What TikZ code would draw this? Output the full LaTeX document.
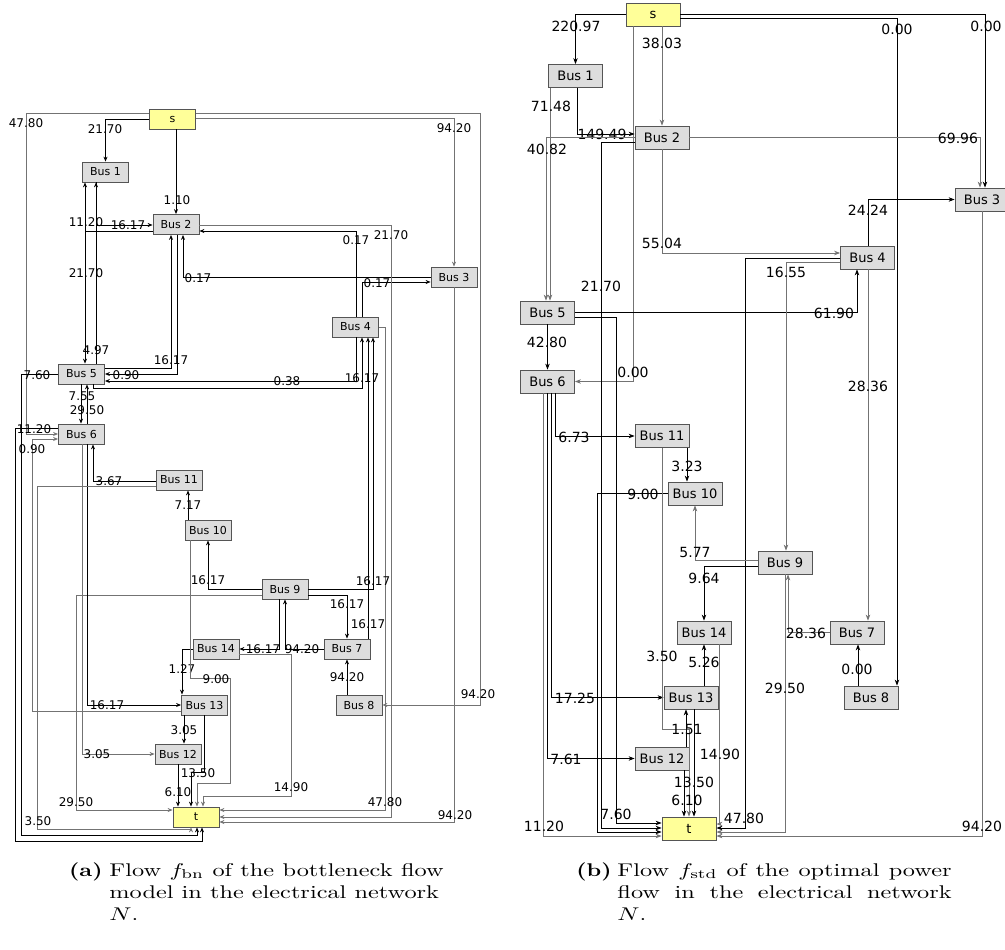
\documentclass[tikz,border=0pt]{standalone}
\usepackage{fontspec}
\newfontfamily\busfont{DejaVu Sans}
\usepackage{tikz}
\usetikzlibrary{arrows.meta}

\definecolor{busfill}{HTML}{DDDDDD}
\definecolor{termfill}{HTML}{FFFF99}
\definecolor{boxline}{HTML}{555555}

\begin{document}
\begin{tikzpicture}[x=1pt,y=-1pt,
  line/.style={line width=0.8pt},
  flow/.style={line,-{Stealth[length=5pt,width=4pt]}},
  flowg/.style={flow,draw=black!55},
  flowb/.style={line,-{Stealth[length=6pt,width=4.5pt]}},
  flowbg/.style={flowb,draw=black!55},
  bus/.style={draw=boxline,line width=0.8pt,fill=busfill,minimum width=46pt,minimum height=20pt,inner sep=0pt,font=\busfont\fontsize{11}{12}\selectfont},
  term/.style={bus,fill=termfill},
  busb/.style={bus,minimum width=54pt,minimum height=23pt,font=\busfont\fontsize{13}{14}\selectfont},
  termb/.style={busb,fill=termfill},
  lbl/.style={inner sep=0pt,font=\busfont\fontsize{12}{12}\selectfont},
  lblb/.style={inner sep=0pt,font=\busfont\fontsize{14}{14}\selectfont},
  captext/.style={anchor=base west,inner sep=0pt,xscale=2.43,yscale=1.84,text width=137.5pt,align=justify,font=\normalsize},
  captag/.style={anchor=base east,inner sep=0pt,xscale=2.3,yscale=1.84,font=\normalsize\bfseries}]

\useasboundingbox[fill=white] (0,0) rectangle (1005,950);

% ---- (a) bottleneck flow ----
\node[term] (Sa) at (172.5,119) {s};
\node[bus] (A1) at (105.5,172) {Bus 1};
\node[bus] (A2) at (176,224.5) {Bus 2};
\node[bus] (A3) at (454,277) {Bus 3};
\node[bus] (A4) at (355.5,327) {Bus 4};
\node[bus] (A5) at (81.5,374) {Bus 5};
\node[bus] (A6) at (81.5,434) {Bus 6};
\node[bus] (A7) at (347,649) {Bus 7};
\node[bus] (A8) at (359,705) {Bus 8};
\node[bus] (A9) at (285,589) {Bus 9};
\node[bus] (A10) at (208,530) {Bus 10};
\node[bus] (A11) at (179,480) {Bus 11};
\node[bus] (A12) at (178,754) {Bus 12};
\node[bus] (A13) at (204.5,705) {Bus 13};
\node[bus] (A14) at (216,649) {Bus 14};
\node[term] (Ta) at (196,817) {t};

% arcs leaving s
\draw[flow] (Sa.west) -| (A1.north);
\node[lbl] (fa1) at (105,129) {21.70};
\draw[flow] (Sa.south -| A2) -- (A2.north);
\node[lbl] (fa2) at (177,200) {1.10};
\draw[flowg] (Sa.east |- 0,118) -| (A3.north);
\node[lbl] (fa3) at (454,128) {94.20};
\draw[flowg] (Sa.east |- 0,113) -| (480,705) -- (A8.east);
\node[lbl] (fa4) at (478,694) {94.20};
\draw[flowg] (Sa.west |- 0,113) -| (26,434) -- (A6.west |- 0,434);
\node[lbl] (fa5) at (26,123) {47.80};

% upper buses
\draw[flow] (A2.west |- 0,231) -| (A1.south -| 85,0);
\node[lbl] (fa6) at (86,222) {11.20};
\draw[flow] (A2.west |- 0,231) -| (A5.north -| 85,0);
\node[lbl] (fa7) at (96,350) {4.97};
\draw[flow] (A5.north -| 96,0) -- (A1.south -| 96,0);
\node[lbl] (fa8) at (86,273) {21.70};
\draw[flow] (A1.south -| 96,0) |- (A2.west |- 0,225);
\node[lbl] (fa9) at (128,225) {16.17};
\draw[flow] (A5.east |- 0,368) -| (A2.south -| 171,0);
\node[lbl] (fa10) at (171,360) {16.17};
\draw[flow] (A2.south -| 177,0) |- (A5.east |- 0,374);
\node[lbl] (fa11) at (126,375) {0.90};
\draw[flow] (A3.west |- 0,277) -| (A2.south -| 183,0);
\node[lbl] (fa12) at (198,278) {0.17};
\draw[flow] (A4.north -| 356,0) |- (A2.east |- 0,231);
\node[lbl] (fa13) at (356,240) {0.17};
\draw[flow] (A4.north -| 362,0) |- (A3.west |- 0,282);
\node[lbl] (fa14) at (377,283) {0.17};
\draw[flowg] (A2.east |- 0,225) -| (391,817) -- (Ta.east |- 0,817);
\node[lbl] (fa15) at (391,235) {21.70};
\draw[flowg] (A4.east) -| (385,810) -- (Ta.east |- 0,810);
\node[lbl] (fa16) at (385,802) {47.80};
\draw[flowg] (A3.south) |- (Ta.east |- 0,822);
\node[lbl] (fa17) at (455,815) {94.20};
\draw[flow] (A4.south -| 356,0) |- (A5.east |- 0,381);
\node[lbl] (fa18) at (287,381) {0.38};
\draw[flow] (A5.south -| 93,0) |- (362,388) -- (A4.south -| 362,0);
\node[lbl] (fa19) at (362,378) {16.17};

% lower buses
\draw[flow] (A9.east |- 0,589) -| (A4.south -| 373,0);
\node[lbl] (fa20) at (373,581) {16.17};
\draw[flow] (A7.north -| 368,0) -- (A4.south -| 368,0);
\node[lbl] (fa21) at (368,624) {16.17};
\draw[flow] (A9.east |- 0,595) -| (A7.north);
\node[lbl] (fa22) at (347,604) {16.17};
\draw[flow] (A9.west |- 0,589) -| (A10.south);
\node[lbl] (fa23) at (208,580) {16.17};
\draw[flowg] (A9.west |- 0,595) -| (76,810) -- (Ta.west |- 0,810);
\node[lbl] (fa24) at (76,802) {29.50};
\draw[flow] (A9.south -| 279,0) |- (A14.east);
\node[lbl] (fa25) at (263,649) {16.17};
\draw[flow] (A7.west) -| (A9.south -| 285,0);
\node[lbl] (fa26) at (302,649) {94.20};
\draw[flow] (A8.north -| A7) -- (A7.south);
\node[lbl] (fa27) at (347,677) {94.20};
\draw[flowg] (A14.east |- 0,654) -| (291,796) -| (Ta.north -| 203,0);
\node[lbl] (fa28) at (291,787) {14.90};
\draw[flow] (A14.west) -| (A13.north -| 182,0);
\node[lbl] (fa29) at (182,669) {1.27};
\draw[flowg] (A10.south -| 190,0) |- (230,678) |- (197,783) -- (Ta.north -| 197,0);
\node[lbl] (fa30) at (216,679) {9.00};
\draw[flow] (A13.south -| 204,0) |- (191,772) -- (Ta.north -| 191,0);
\node[lbl] (fa31) at (198,773) {13.50};
\draw[flow] (A12.south) -- (Ta.north -| A12);
\node[lbl] (fa32) at (178,792) {6.10};
\draw[flow] (A13.south -| 184,0) -- (A12.north -| 184,0);
\node[lbl] (fa33) at (184,730) {3.05};
\draw[flowg] (A6.south -| 82,0) |- (A12.west);
\node[lbl] (fa34) at (97,754) {3.05};
\draw[flow] (A6.south -| 87,0) |- (A13.west);
\node[lbl] (fa35) at (107,705) {16.17};
\draw[flowg] (A13.west |- 0,711) -| (32,439) -- (A6.west |- 0,439);
\node[lbl] (fa36) at (32,449) {0.90};
\draw[flow] (A11.west |- 0,481) -| (A6.south -| 93,0);
\node[lbl] (fa37) at (109,481) {3.67};
\draw[flowg] (A11.west |- 0,486) -| (37,829) -| (Ta.south -| 191,0);
\node[lbl] (fa38) at (38,821) {3.50};
\draw[flow] (A5.west) -| (21,835) -| (Ta.south -| 197,0);
\node[lbl] (fa39) at (37,375) {7.60};
\draw[flow] (A6.west |- 0,428) -| (15,841) -| (Ta.south -| 202,0);
\node[lbl] (fa40) at (34,429) {11.20};
\draw[flow] (A10.north -| 188,0) -- (A11.south -| 188,0);
\node[lbl] (fa41) at (188,505) {7.17};
\draw[flow] (A5.south -| 81,0) -- (A6.north -| 81,0);
\node[lbl] (fa42) at (82,396) {7.55};
\draw[flow] (A6.north -| 87,0) -- (A5.south -| 87,0);
\node[lbl] (fa43) at (87,410) {29.50};

% ---- (b) optimal power flow ----
\node[termb] (Sb) at (653,14.5) {s};
\node[busb] (B1) at (575.5,76) {Bus 1};
\node[busb] (B2) at (662,137.5) {Bus 2};
\node[busb] (B3) at (982,199.5) {Bus 3};
\node[busb] (B4) at (867.5,257.5) {Bus 4};
\node[busb] (B5) at (547.5,312.5) {Bus 5};
\node[busb] (B6) at (547.5,381.5) {Bus 6};
\node[busb] (B7) at (857,632.5) {Bus 7};
\node[busb] (B8) at (871,697.5) {Bus 8};
\node[busb] (B9) at (785,562.5) {Bus 9};
\node[busb] (B10) at (695,493.5) {Bus 10};
\node[busb] (B11) at (662,436) {Bus 11};
\node[busb] (B12) at (662,758.5) {Bus 12};
\node[busb] (B13) at (691,697.5) {Bus 13};
\node[busb] (B14) at (704,632.5) {Bus 14};
\node[termb] (Tb) at (689,828.5) {t};

% arcs leaving s
\draw[flowb] (Sb.west) -| (B1.north);
\node[lblb] (fb1) at (576,26) {220.97};
\draw[flowbg] (Sb.south -| B2) -- (B2.north);
\node[lblb] (fb2) at (662,43) {38.03};
\draw[flowbg] (Sb.south -| 633,0) |- (B6.east);
\node[lblb] (fb3) at (633,372) {0.00};
\draw[flowb] (Sb.east |- 0,18) -| (B8.north -| 897,0);
\node[lblb] (fb4) at (897,29) {0.00};
\draw[flowb] (Sb.east |- 0,14) -| (B3.north -| 985,0);
\node[lblb] (fb5) at (986,26) {0.00};

% upper buses
\draw[flowbg] (B2.east) -| (B3.north -| 980,0);
\node[lblb] (fb6) at (958,138) {69.96};
\draw[flowb] (B1.south -| 577,0) |- (B2.west |- 0,134);
\node[lblb] (fb7) at (602,134) {149.49};
\draw[flowbg] (B1.south -| 550,0) -- (B5.north -| 550,0);
\node[lblb] (fb8) at (551,106) {71.48};
\draw[flowbg] (B2.west |- 0,137) -| (B5.north -| 546,0);
\node[lblb] (fb9) at (547,149) {40.82};
\draw[flowb] (B2.west |- 0,142) -| (601,828) -- (Tb.west |- 0,828);
\node[lblb] (fb10) at (601,286) {21.70};
\draw[flowb] (B5.east |- 0,317.5) -| (616,823) -- (Tb.west |- 0,823);
\node[lblb] (fb11) at (616,814) {7.60};
\draw[flowb] (B5.east) -| (B4.south -| 857,0);
\node[lblb] (fb18) at (834,313) {61.90};
\draw[flowb] (B5.south) -- (B6.north);
\node[lblb] (fb17) at (547,342) {42.80};
\draw[flowbg] (B2.south) |- (B4.west |- 0,253);
\node[lblb] (fb19) at (662,243) {55.04};
\draw[flowb] (B4.west |- 0,258) -| (745,828) -- (Tb.east |- 0,828);
\node[lblb] (fb20) at (744,818) {47.80};
\draw[flowbg] (B4.west |- 0,262) -| (B9.north -| 786,0);
\node[lblb] (fb21) at (786,272) {16.55};
\draw[flowb] (B4.north -| 868,0) |- (B3.west);
\node[lblb] (fb22) at (868,210) {24.24};
\draw[flowbg] (B4.south -| 868,0) -- (B7.north -| 868,0);
\node[lblb] (fb23) at (868,386) {28.36};
\draw[flowbg] (B3.south -| 982,0) |- (Tb.east |- 0,836);
\node[lblb] (fb27) at (982,826) {94.20};

% Bus 6 outgoing
\draw[flowbg] (B6.south -| 543,0) |- (Tb.west |- 0,836);
\node[lblb] (fb13) at (544,826) {11.20};
\draw[flowb] (B6.south -| 547,0) |- (B12.west);
\node[lblb] (fb14) at (566,759) {7.61};
\draw[flowb] (B6.south -| 551,0) |- (B13.west);
\node[lblb] (fb15) at (575,698) {17.25};
\draw[flowb] (B6.south -| 555,0) |- (B11.west);
\node[lblb] (fb16) at (574,437) {6.73};

% lower buses
\draw[flowb] (B10.west) -| (597,832) -- (Tb.west |- 0,832);
\node[lblb] (fb12) at (643,494) {9.00};
\draw[flowbg] (B7.west) -| (B9.south -| 788,0);
\node[lblb] (fb24) at (806,633) {28.36};
\draw[flowb] (B8.north -| 858,0) -- (B7.south -| 858,0);
\node[lblb] (fb25) at (857,669) {0.00};
\draw[flowbg] (B9.south -| 785,0) |- (Tb.east |- 0,832);
\node[lblb] (fb26) at (785,688) {29.50};
\draw[flowbg] (B9.west |- 0,560) -| (B10.south);
\node[lblb] (fb28) at (695,552) {5.77};
\draw[flowb] (B9.west |- 0,566) -| (B14.north);
\node[lblb] (fb29) at (704,578) {9.64};
\draw[flowb] (B11.south -| 687,0) -- (B10.north -| 687,0);
\node[lblb] (fb30) at (687,466) {3.23};
\draw[flowbg] (B11.south) |- (689,729) -- (Tb.north -| 689,0);
\node[lblb] (fb31) at (662,656) {3.50};
\draw[flowb] (B12.north -| 686,0) -- (B13.south -| 686,0);
\node[lblb] (fb32) at (687,729) {1.51};
\draw[flowb] (B13.south -| 694,0) -- (Tb.north -| 694,0);
\node[lblb] (fb33) at (694,782) {13.50};
\draw[flowb] (B12.south -| 684,0) -- (Tb.north -| 684,0);
\node[lblb] (fb34) at (687,800) {6.10};
\draw[flowb] (B13.north -| 704,0) -- (B14.south -| 704,0);
\node[lblb] (fb35) at (704,662) {5.26};
\draw[flowbg] (B14.south -| 719,0) |- (Tb.east |- 0,824);
\node[lblb] (fb36) at (720,754) {14.90};

% captions
\node[captag] (tagA) at (103,876) {(a)};
\node[captext] (capA) at (109,876) {Flow $f_{\mathrm{bn}}$ of the bottleneck flow model in the electrical network\\ $N$.};
\node[captag] (tagB) at (612,876) {(b)};
\node[captext] (capB) at (617,876) {Flow $f_{\mathrm{std}}$ of the optimal power flow in the electrical network\linebreak $N$.};

\end{tikzpicture}
\end{document}
